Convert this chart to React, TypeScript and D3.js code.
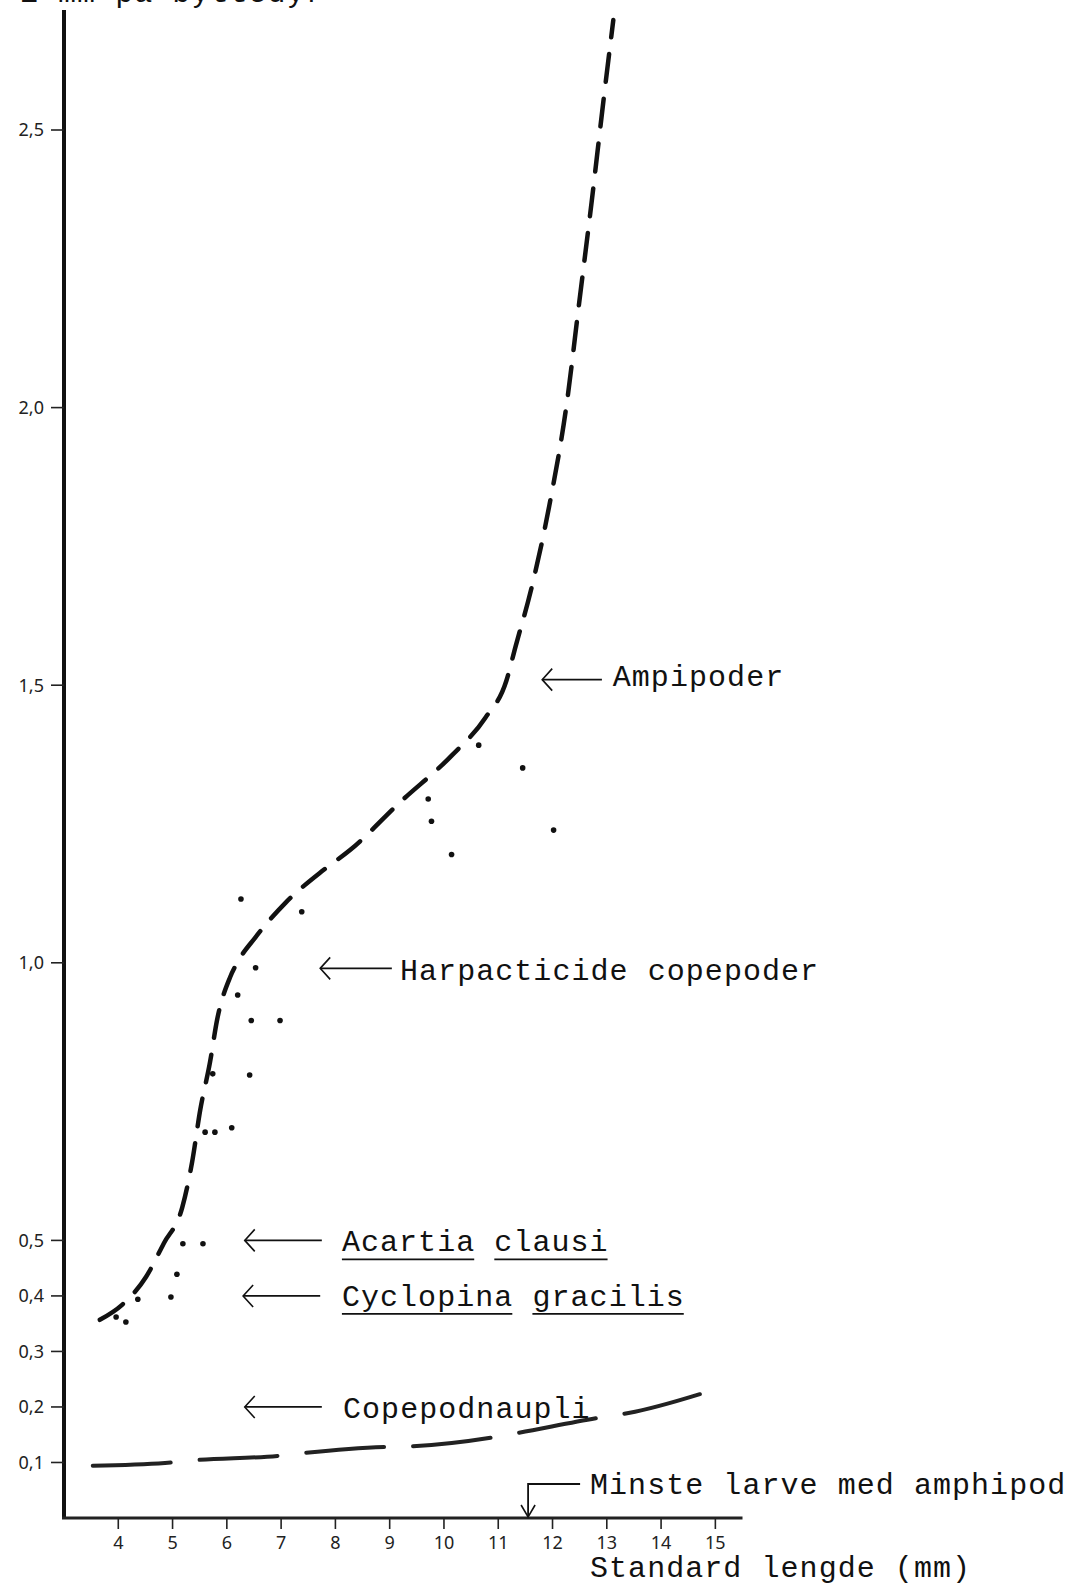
import React from 'react';
import * as d3 from 'd3';

const W = 1087;
const H = 1585;

// Amphipod feeding curve: fish standard length (mm) vs. prey size (mm)
const ampipoderLength = [3.66, 4.07, 4.51, 4.84, 5.18, 5.36, 5.51, 5.69, 5.82, 6.06, 6.19, 6.52, 7.08, 7.78, 8.27, 9.2, 10.15, 10.76, 11.15, 11.32, 11.6, 11.94, 12.26, 12.49, 12.72, 12.94, 13.12];
const ampipoderSize = [0.357, 0.384, 0.434, 0.495, 0.56, 0.641, 0.735, 0.821, 0.897, 0.974, 1.0, 1.045, 1.108, 1.167, 1.203, 1.29, 1.374, 1.441, 1.508, 1.57, 1.67, 1.823, 2.006, 2.188, 2.37, 2.554, 2.698];

// Copepod nauplii curve
const naupliLength = [3.53, 4.86, 5.4, 6.95, 7.41, 8.9, 9.34, 10.95, 11.35, 12.94, 13.4, 14.78];
const naupliSize = [0.094, 0.099, 0.104, 0.112, 0.117, 0.128, 0.129, 0.146, 0.153, 0.182, 0.189, 0.225];

// Individual observations
const obsLength = [3.96, 4.14, 4.36, 4.97, 5.08, 5.19, 5.56, 6.26, 7.38, 6.53, 6.2, 6.45, 6.98, 5.74, 6.42, 5.6, 5.78, 6.09, 10.64, 11.45, 9.71, 9.77, 12.02, 10.14];
const obsSize = [0.362, 0.353, 0.394, 0.398, 0.439, 0.494, 0.494, 1.115, 1.092, 0.991, 0.942, 0.896, 0.896, 0.8, 0.798, 0.695, 0.695, 0.703, 1.392, 1.351, 1.295, 1.255, 1.239, 1.195];

// Prey groups and their typical size (mm)
const preyNames = ['Ampipoder', 'Harpacticide copepoder', 'Acartia clausi', 'Cyclopina gracilis', 'Copepodnaupli'];
const preySizes = [1.51, 0.99, 0.5, 0.4, 0.2];
const preyUnderlined = [false, false, true, true, false];

const yTicks = [0.1, 0.2, 0.3, 0.4, 0.5, 1.0, 1.5, 2.0, 2.5];
const xTicks = [4, 5, 6, 7, 8, 9, 10, 11, 12, 13, 14, 15];

// Smallest larva found with an amphipod in the gut (mm)
const minsteLength = 11.55;

// Annotation layout: arrow tip, arrow tail and text start (in mm along x), baseline shift (px)
const labelLayout = [
  { tip: 11.81, tail: 12.91, text: 13.11, dy: 6 },
  { tip: 7.72, tail: 9.04, text: 9.19, dy: 12 },
  { tip: 6.33, tail: 7.75, text: 8.12, dy: 11 },
  { tip: 6.3, tail: 7.72, text: 8.12, dy: 10 },
  { tip: 6.33, tail: 7.75, text: 8.14, dy: 11 },
];

const MONO = '"Liberation Mono", "DejaVu Sans Mono", monospace';
const SANS = '"Noto Sans", "DejaVu Sans", sans-serif';
const FS = 30;
const LS = 1.05;
const CH = FS * 0.6 + LS;

export default function App() {
  const x = d3.scaleLinear().domain([3, 15.5]).range([64, 742.5]);
  const y = d3.scaleLinear().domain([0, 2.5]).range([1518, 130]);

  const line = d3
    .line<[number, number]>()
    .x((d) => x(d[0]))
    .y((d) => y(d[1]))
    .curve(d3.curveMonotoneX);

  const ampi: [number, number][] = ampipoderLength.map((v, i) => [v, ampipoderSize[i]]);
  const naup: [number, number][] = naupliLength.map((v, i) => [v, naupliSize[i]]);

  const axisY = y(0);
  const xm = x(minsteLength);

  return (
    <svg
      width={W}
      height={H}
      viewBox={`0 0 ${W} ${H}`}
      style={{ position: 'absolute', left: 0, top: 0, display: 'block', background: '#fff' }}
    >
      <rect x={0} y={0} width={W} height={H} fill="#fff" />

      {/* y-axis title, running off the top edge */}
      <text x={58 - 9 * CH} y={2} fontFamily={MONO} fontSize={FS} letterSpacing={LS} fill="#111">
        Lengde i mm på byttedyr
      </text>

      {/* y axis */}
      <line x1={x(3)} x2={x(3)} y1={axisY} y2={y(2.716)} stroke="#111" strokeWidth={4} />
      {yTicks.map((t) => (
        <g key={t}>
          <line x1={x(3) - 13} x2={x(3)} y1={y(t)} y2={y(t)} stroke="#222" strokeWidth={1.6} />
          <text
            x={44}
            y={y(t)}
            dy="0.35em"
            textAnchor="end"
            fontFamily={SANS}
            fontSize={18}
            fill="#222"
          >
            {d3.format('.1f')(t).replace('.', ',')}
          </text>
        </g>
      ))}

      {/* x axis */}
      <line x1={x(3) - 2} x2={x(15.5)} y1={axisY} y2={axisY} stroke="#222" strokeWidth={3} />
      {xTicks.map((t) => (
        <g key={t}>
          <line x1={x(t)} x2={x(t)} y1={axisY} y2={axisY + 11} stroke="#222" strokeWidth={1.6} />
          <text x={x(t)} y={axisY + 31} textAnchor="middle" fontFamily={SANS} fontSize={18} fill="#222">
            {t}
          </text>
        </g>
      ))}
      <text x={590} y={1577} fontFamily={MONO} fontSize={FS} letterSpacing={LS} fill="#111">
        Standard lengde (mm)
      </text>

      {/* curves */}
      <path
        d={line(ampi) ?? ''}
        fill="none"
        stroke="#111"
        strokeWidth={4.5}
        strokeDasharray="28 17"
        strokeLinecap="round"
      />
      <path
        d={line(naup) ?? ''}
        fill="none"
        stroke="#222"
        strokeWidth={4}
        strokeDasharray="78 29"
        strokeLinecap="round"
      />

      {/* observations */}
      {obsLength.map((v, i) => (
        <circle key={i} cx={x(v)} cy={y(obsSize[i])} r={2.8} fill="#111" />
      ))}

      {/* prey annotations */}
      {preyNames.map((name, i) => {
        const L = labelLayout[i];
        const ay = y(preySizes[i]);
        const tx = x(L.text);
        const words = name.split(' ');
        let offset = 0;
        const underlines = preyUnderlined[i]
          ? words.map((w, k) => {
              const x1 = tx + offset * CH;
              const x2 = tx + (offset + w.length) * CH - LS;
              offset += w.length + 1;
              return <line key={k} x1={x1} x2={x2} y1={ay + L.dy + 8} y2={ay + L.dy + 8} stroke="#111" strokeWidth={1.8} />;
            })
          : null;
        return (
          <g key={name}>
            <line x1={x(L.tip)} x2={x(L.tail)} y1={ay} y2={ay} stroke="#111" strokeWidth={1.8} />
            <path
              d={`M${x(L.tip) + 10},${ay - 11} L${x(L.tip)},${ay} L${x(L.tip) + 10},${ay + 11}`}
              fill="none"
              stroke="#111"
              strokeWidth={1.6}
            />
            <text x={tx} y={ay + L.dy} fontFamily={MONO} fontSize={FS} letterSpacing={LS} fill="#111">
              {name}
            </text>
            {underlines}
          </g>
        );
      })}

      {/* smallest larva with amphipod */}
      <path
        d={`M${xm + 52},${axisY - 34} L${xm},${axisY - 34} L${xm},${axisY - 1}`}
        fill="none"
        stroke="#111"
        strokeWidth={1.8}
      />
      <path
        d={`M${xm - 7},${axisY - 13} L${xm},${axisY - 1} L${xm + 7},${axisY - 13}`}
        fill="none"
        stroke="#111"
        strokeWidth={1.6}
      />
      <text x={590} y={1494} fontFamily={MONO} fontSize={FS} letterSpacing={LS} fill="#111">
        Minste larve med amphipod
      </text>
    </svg>
  );
}
